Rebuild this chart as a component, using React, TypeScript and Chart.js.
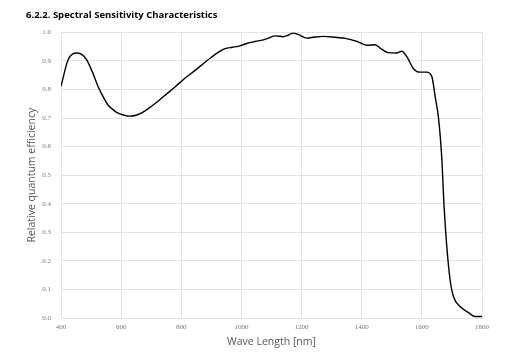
import React, { useEffect, useRef } from "react";
import { Chart, registerables } from "chart.js";

Chart.register(...registerables);

const TITLE = "6.2.2. Spectral Sensitivity Characteristics";
const X_TITLE = "Wave Length [nm]";
const Y_TITLE = "Relative quantum efficiency";

const wavelengths = [
  400, 424, 454, 470, 485, 505, 524, 540, 557, 575, 590, 610, 629, 650, 668, 690, 713, 745, 779, 810,
  846, 875, 901, 925, 945, 970, 995, 1020, 1045, 1073, 1090, 1112, 1139, 1155, 1172, 1190, 1217, 1245,
  1272, 1310, 1350, 1385, 1417, 1444, 1465, 1489, 1516, 1533, 1550, 1572, 1594, 1616, 1633, 1645, 1655,
  1666, 1674, 1683, 1694, 1705, 1727, 1755, 1777, 1800,
];
const efficiency = [
  0.811, 0.905, 0.928, 0.922, 0.905, 0.86, 0.809, 0.775, 0.745, 0.728, 0.717, 0.71, 0.707, 0.71, 0.718,
  0.733, 0.751, 0.779, 0.809, 0.838, 0.867, 0.892, 0.914, 0.932, 0.943, 0.948, 0.953, 0.962, 0.968,
  0.974, 0.98, 0.988, 0.985, 0.99, 0.998, 0.992, 0.98, 0.984, 0.986, 0.983, 0.978, 0.968, 0.955, 0.957,
  0.942, 0.929, 0.928, 0.934, 0.915, 0.873, 0.861, 0.861, 0.846, 0.77, 0.704, 0.564, 0.389, 0.249, 0.133,
  0.075, 0.04, 0.019, 0.005, 0.005,
];

export default function App() {
  const ref = useRef<HTMLCanvasElement>(null);
  useEffect(() => {
    document.body.style.margin = "0";
    const ctx = ref.current!.getContext("2d")!;
    const points = wavelengths.map((w, i) => ({ x: w, y: efficiency[i] }));
    const chart = new Chart(ctx, {
      type: "line",
      data: {
        datasets: [
          {
            data: points,
            borderColor: "#000000",
            borderWidth: 1.4,
            pointRadius: 0,
            cubicInterpolationMode: "monotone",
            fill: false,
          },
        ],
      },
      options: {
        animation: false,
        responsive: false,
        maintainAspectRatio: false,
        layout: { padding: { left: 26, right: 35, top: 6, bottom: 13 } },
        plugins: {
          legend: { display: false },
          tooltip: { enabled: false },
          title: {
            display: true,
            text: TITLE,
            align: "start",
            color: "#000",
            font: { family: "Open Sans", size: 9.5, weight: "bold" },
            padding: { top: 4, bottom: 11 },
          },
        },
        scales: {
          x: {
            type: "linear",
            min: 400,
            max: 1800,
            ticks: {
              stepSize: 200,
              color: "#777",
              font: { family: "Liberation Serif", size: 7 },
              padding: 5,
              maxRotation: 0,
              callback: (v: any) => String(v),
            },
            grid: { color: "#e2e2e2", lineWidth: 1, drawTicks: false },
            border: { color: "#e2e2e2" },
            title: {
              display: true,
              text: X_TITLE,
              color: "#555",
              font: { family: "Open Sans", size: 10.5 },
              padding: { top: 2, bottom: 0 },
            },
            afterFit: (s: any) => {
              s.height = 30;
            },
          },
          y: {
            min: 0,
            max: 1,
            ticks: {
              stepSize: 0.1,
              color: "#777",
              font: { family: "Liberation Serif", size: 7 },
              padding: 10,
              callback: (v: any) => Number(v).toFixed(1),
            },
            grid: { color: "#e2e2e2", lineWidth: 1, drawTicks: false },
            border: { color: "#e2e2e2" },
            title: {
              display: true,
              text: Y_TITLE,
              color: "#555",
              font: { family: "Open Sans", size: 10.5 },
              padding: { top: 0, bottom: 0 },
            },
            afterFit: (s: any) => {
              s.width = 35;
            },
          },
        },
      },
    });
    return () => chart.destroy();
  }, []);
  return (
    <div style={{ position: "absolute", left: 0, top: 0, width: 517, height: 361, background: "#fff" }}>
      <canvas ref={ref} width={517} height={361} />
    </div>
  );
}
